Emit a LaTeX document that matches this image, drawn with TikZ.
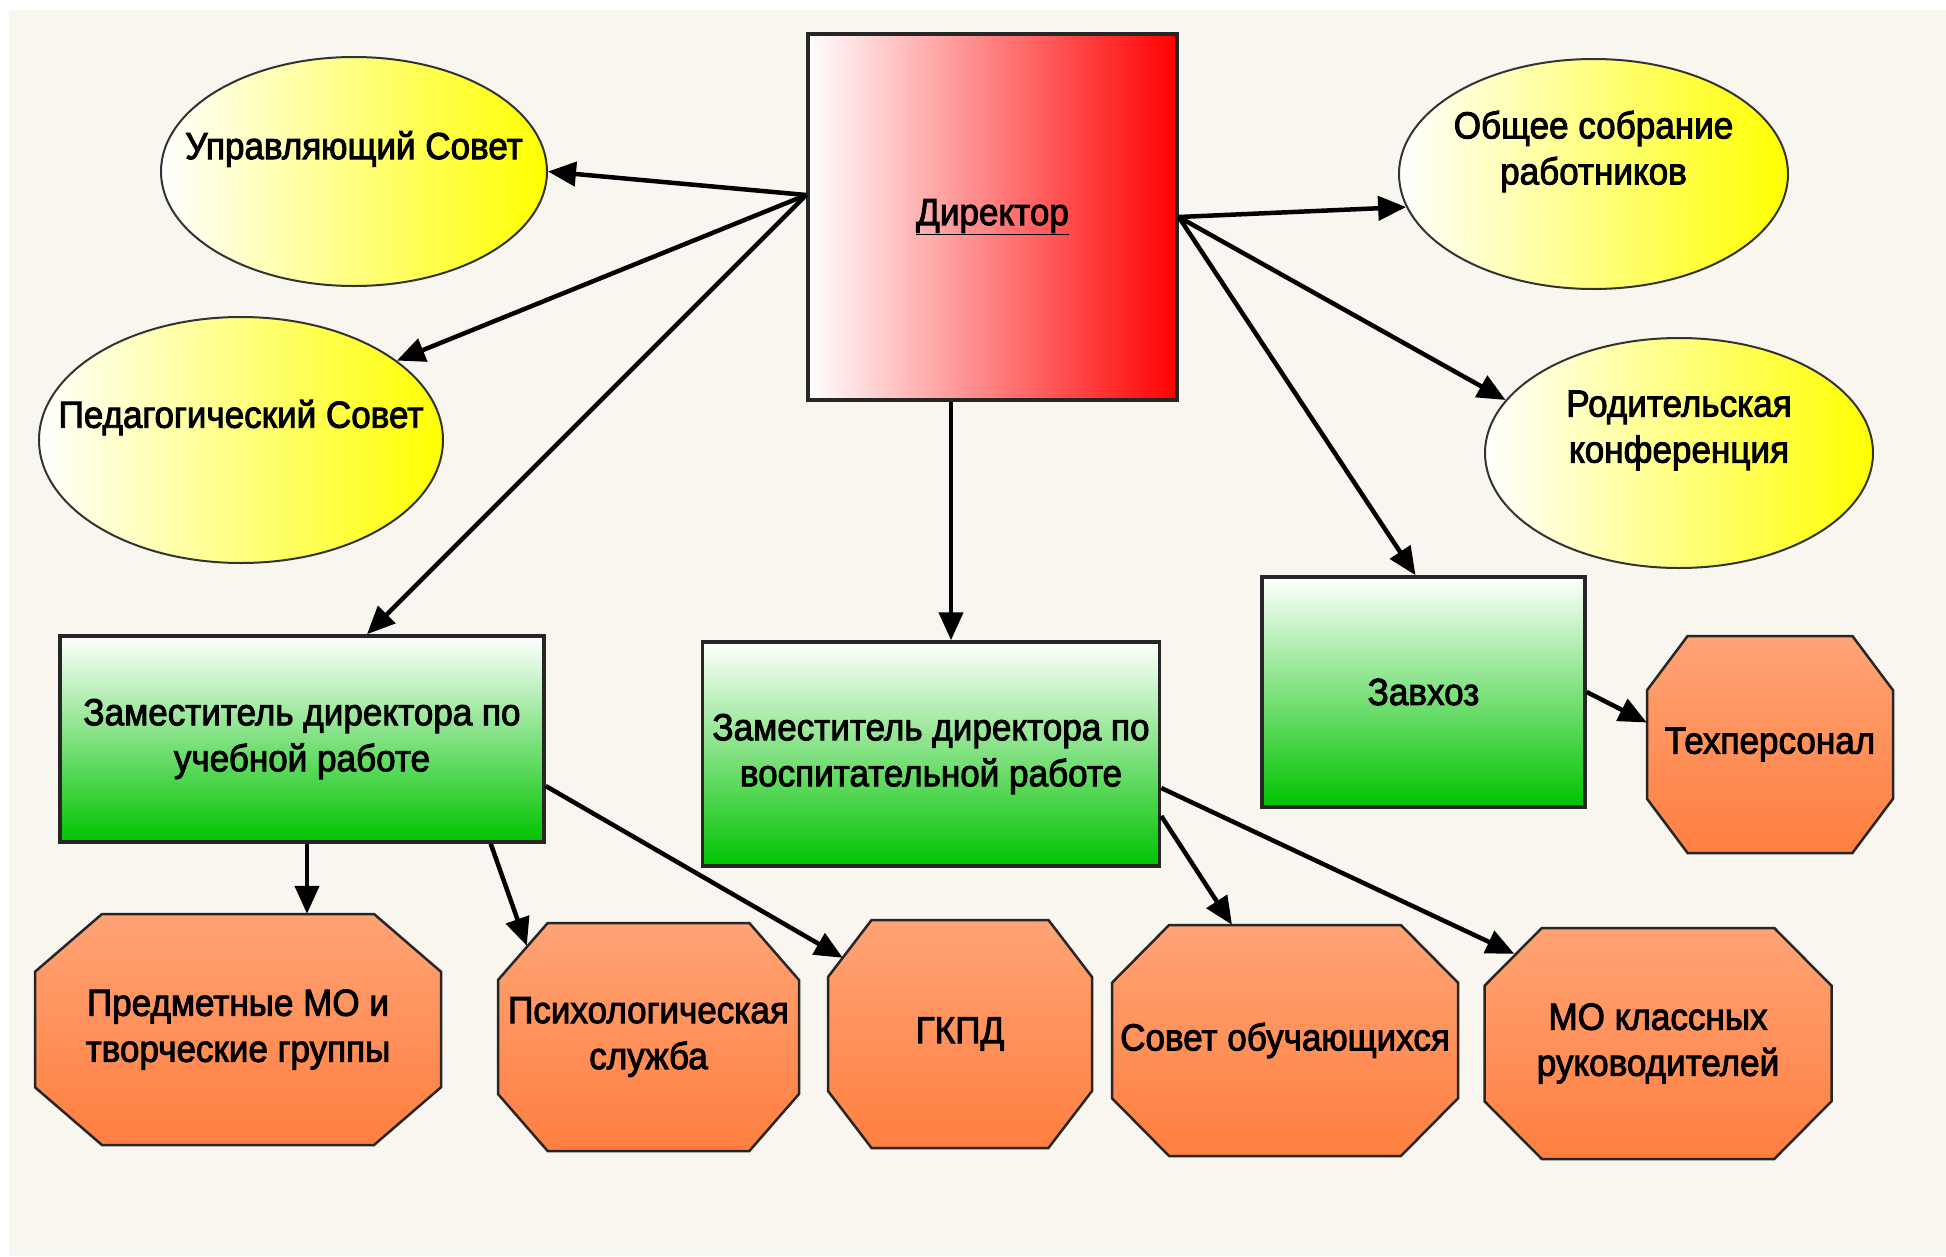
\documentclass[tikz,border=0pt]{standalone}
\usepackage{fontspec}
\setmainfont{Liberation Sans}[FakeStretch=0.93,FakeBold=2.5]
\usetikzlibrary{arrows.meta,shapes.geometric}

\definecolor{paper}{RGB}{249,246,239}
\definecolor{zgreen}{RGB}{0,195,0}
\definecolor{octtop}{RGB}{255,163,117}
\definecolor{octbot}{RGB}{255,127,64}

\tikzset{
  every node/.style={font=\fontsize{37.7}{46}\selectfont, align=center, inner sep=0pt},
  chief/.style={rectangle, draw=black!85, line width=3.5pt, left color=white, right color=red,
    minimum width=369pt, minimum height=366pt},
  council/.style={ellipse, draw=black!80, line width=2pt, left color=white, right color=yellow},
  deputy/.style={rectangle, draw=black!85, line width=3.5pt, top color=white, bottom color=zgreen},
  octfill/.style={draw=black!85, line width=2.5pt, top color=octtop, bottom color=octbot},
  arr/.style={line width=4.5pt, -{Triangle[length=28pt,width=24pt]}},
}

% octagon: name, x, y, width, height, text
\newcommand{\octnode}[6]{%
  \path[octfill] ({#2-#4/2+0.165*#4},{#3-#5/2}) -- ({#2+#4/2-0.165*#4},{#3-#5/2})
    -- ({#2+#4/2},{#3-#5/4}) -- ({#2+#4/2},{#3+#5/4})
    -- ({#2+#4/2-0.165*#4},{#3+#5/2}) -- ({#2-#4/2+0.165*#4},{#3+#5/2})
    -- ({#2-#4/2},{#3+#5/4}) -- ({#2-#4/2},{#3-#5/4}) -- cycle;
  \node[minimum width=#4pt, minimum height=#5pt] (#1) at (#2,#3) {#6};
}

\begin{document}
\begin{tikzpicture}[x=1pt, y=-1pt]
  \fill[white] (0,0) rectangle (1946,1256);
  \fill[paper] (9,10) rectangle (1946,1256);
  \useasboundingbox (0,0) rectangle (1946,1256);

  % top
  \node[chief] (dir) at (992.5,217) {\underline{Директор}};
  \node[council, minimum width=386pt, minimum height=229pt,
    label={[yshift=22.5pt]center:Управляющий Совет}] (upr) at (354,171.5) {};
  \node[council, minimum width=404pt, minimum height=246pt,
    label={[yshift=22.5pt]center:Педагогический Совет}] (ped) at (241,440) {};
  \node[council, minimum width=389pt, minimum height=230pt,
    label={[yshift=22.5pt]center:{Общее собрание\\работников}}] (obsh) at (1593.5,174) {};
  \node[council, minimum width=388pt, minimum height=230pt,
    label={[yshift=22.5pt]center:{Родительская\\конференция}}] (rod) at (1679,453) {};

  % deputies
  \node[deputy, minimum width=484pt, minimum height=206pt] (zu) at (302,739)
    {Заместитель директора по\\учебной работе};
  \node[deputy, minimum width=457pt, minimum height=224pt] (zv) at (931,754)
    {Заместитель директора по\\воспитательной работе};
  \node[deputy, minimum width=323pt, minimum height=230pt] (zh) at (1423.5,692) {Завхоз};

  % bottom
  \octnode{pmo}{238}{1029.5}{406}{231}{Предметные МО и\\творческие группы}
  \octnode{psy}{648.5}{1037}{301}{228}{Психологическая\\служба}
  \octnode{gkpd}{960}{1034}{264}{228}{ГКПД}
  \octnode{sov}{1285}{1040.5}{346}{231}{Совет обучающихся}
  \octnode{mok}{1658}{1043.5}{347}{231}{МО классных\\руководителей}
  \octnode{tex}{1770}{744.5}{246}{217}{Техперсонал}

  % arrows
  \draw[arr] ([yshift=22pt]dir.west) -- (upr.east);
  \draw[arr] ([yshift=22pt]dir.west) -- (ped.27);
  \draw[arr] ([yshift=22pt]dir.west) -- ([xshift=65pt]zu.north);
  \draw[arr] ([xshift=20pt]zv.north |- dir.south) -- ([xshift=20pt]zv.north);
  \draw[arr] (dir.east) -- (obsh.190);
  \draw[arr] (dir.east) -- (rod.163);
  \draw[arr] (dir.east) -- ([xshift=-8pt]zh.north);
  \draw[arr] (zh.east) -- ([yshift=22pt]tex.west);
  \draw[arr] ([xshift=5pt]zu.south) -- ([xshift=5pt]zu.south |- pmo.north);
  \draw[arr] ([xshift=-55pt]zu.south east) -- ([shift={(29,23)}]psy.north west);
  \draw[arr] ([yshift=-47pt]zu.east) -- ([shift={(15,38)}]gkpd.north west);
  \draw[arr] ([yshift=-62pt]zv.east) -- ([xshift=-53pt]sov.north);
  \draw[arr] ([yshift=-34pt]zv.east) -- ([shift={(30,26)}]mok.north west);
\end{tikzpicture}
\end{document}
